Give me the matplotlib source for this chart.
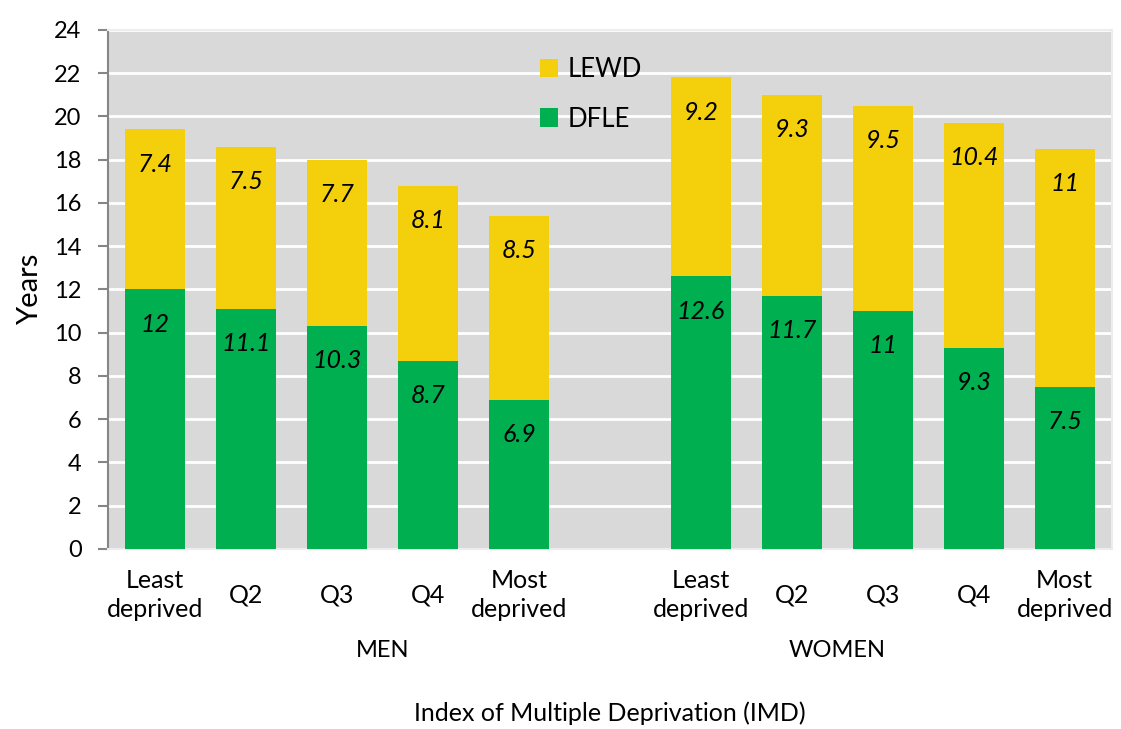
import matplotlib.pyplot as plt
import matplotlib.transforms as mtransforms
import numpy as np

plt.rcParams["font.family"] = ["Lato", "DejaVu Sans"]

quintiles = ["Least\ndeprived", "Q2", "Q3", "Q4", "Most\ndeprived"]
groups = ["MEN", "WOMEN"]
men_dfle = [12, 11.1, 10.3, 8.7, 6.9]
men_lewd = [7.4, 7.5, 7.7, 8.1, 8.5]
women_dfle = [12.6, 11.7, 11, 9.3, 7.5]
women_lewd = [9.2, 9.3, 9.5, 10.4, 11]

green = "#00B050"
yellow = "#F4D00C"

fig = plt.figure(figsize=(11.21, 7.29), dpi=100)
ax = fig.add_axes([0.0963, 0.247, 0.8957, 0.712])
ax.set_facecolor("#D9D9D9")

# men at 0..4, one empty slot, women at 6..10
x_men = np.arange(5)
x_women = np.arange(5) + 6
x_all = np.concatenate([x_men, x_women])
dfle = np.array(men_dfle + women_dfle)
lewd = np.array(men_lewd + women_lewd)

w = 0.66
b1 = ax.bar(x_all, dfle, w, color=green, label="DFLE", zorder=3)
b2 = ax.bar(x_all, lewd, w, bottom=dfle, color=yellow, label="LEWD", zorder=3)

for xi, lo, v in zip(x_all, np.zeros_like(dfle), dfle):
    ax.annotate(f"{v:g}", (xi, lo + v), xytext=(0, -25), textcoords="offset points",
                ha="center", va="center", fontsize=18, style="italic", zorder=4)
for xi, lo, v in zip(x_all, dfle, lewd):
    ax.annotate(f"{v:g}", (xi, lo + v), xytext=(0, -25), textcoords="offset points",
                ha="center", va="center", fontsize=18, style="italic", zorder=4)

ax.set_ylim(0, 24)
ax.set_yticks(np.arange(0, 25, 2))
ax.set_xlim(-0.52, 10.52)
ax.grid(axis="y", color="white", linewidth=2, zorder=1)
ax.set_axisbelow(True)

for s in ["top", "right", "bottom"]:
    ax.spines[s].set_color("#EDEDED")
    ax.spines[s].set_linewidth(1.5)
ax.spines["left"].set_color("#868686")
ax.spines["left"].set_linewidth(1.5)

ax.tick_params(axis="y", length=7, width=1.5, color="#868686", pad=12, labelsize=17)
ax.set_xticks(x_all)
ax.set_xticklabels(quintiles * 2, fontsize=18, linespacing=1.3)
ax.tick_params(axis="x", length=0, pad=33)
for lab in ax.get_xticklabels():
    lab.set_va("center")

ax.set_ylabel("Years", fontsize=21, labelpad=8)

trans = mtransforms.blended_transform_factory(ax.transData, ax.transAxes)
ax.text(2.5, -0.195, groups[0], transform=trans, ha="center", va="center", fontsize=17)
ax.text(7.5, -0.195, groups[1], transform=trans, ha="center", va="center", fontsize=17)
ax.text(0.5, -0.316, "Index of Multiple Deprivation (IMD)", transform=ax.transAxes,
        ha="center", va="center", fontsize=18)

leg = ax.legend(handles=[b2, b1], loc="upper left", bbox_to_anchor=(0.407, 0.993),
                frameon=False, fontsize=18.5, handlelength=0.72, handleheight=0.72,
                handletextpad=0.35, labelspacing=0.97)

fig.savefig("out.png", dpi=100)
